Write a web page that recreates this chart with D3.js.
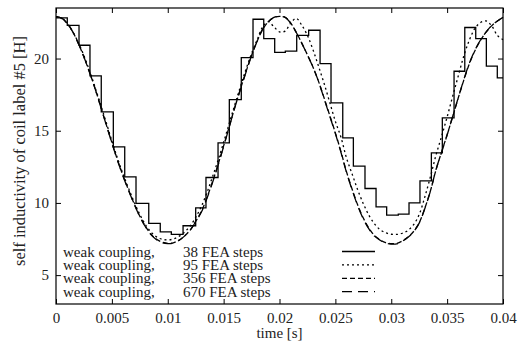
<!DOCTYPE html>
<html>
<head>
<meta charset="utf-8">
<style>
    body { margin: 0; background: #fff; }
    svg text { font-family: "Liberation Serif", "Times New Roman", "DejaVu Serif", Times, serif; }
</style>
</head>
<body>
<svg class="chart" width="522" height="347"></svg>
<script src="https://d3js.org/d3.v7.min.js" charset="utf-8"></script>
<script>
    // time axis of the smooth curves [s]
    var times = [0, 0.0005, 0.001, 0.0015, 0.002, 0.0025, 0.003, 0.0035, 0.004, 0.0045,
        0.005, 0.0055, 0.006, 0.0065, 0.007, 0.0075, 0.008, 0.0085, 0.009, 0.0095,
        0.01, 0.0105, 0.011, 0.0115, 0.012, 0.0125, 0.013, 0.0135, 0.014, 0.0145,
        0.015, 0.0155, 0.016, 0.0165, 0.017, 0.0175, 0.018, 0.0185, 0.019, 0.0195,
        0.02, 0.0205, 0.021, 0.0215, 0.022, 0.0225, 0.023, 0.0235, 0.024, 0.0245,
        0.025, 0.0255, 0.026, 0.0265, 0.027, 0.0275, 0.028, 0.0285, 0.029, 0.0295,
        0.03, 0.0305, 0.031, 0.0315, 0.032, 0.0325, 0.033, 0.0335, 0.034, 0.0345,
        0.035, 0.0355, 0.036, 0.0365, 0.037, 0.0375, 0.038, 0.0385, 0.039, 0.0395, 0.04];

    // 95 FEA steps (dotted)
    var steps95 = [22.90, 22.78, 22.42, 21.85, 21.10, 20.20, 19.15, 18.00, 16.80, 15.55,
        14.30, 13.10, 12.00, 11.00, 10.05, 9.20, 8.50, 7.98, 7.65, 7.48,
        7.44, 7.50, 7.68, 7.98, 8.40, 9.00, 9.75, 10.70, 11.80, 12.95,
        14.20, 15.50, 16.80, 18.05, 19.25, 20.35, 21.30, 22.20, 22.55, 22.20,
        21.85, 21.90, 22.45, 22.78, 22.30, 21.60, 20.60, 19.45, 18.25, 16.95,
        15.65, 14.55, 13.10, 12.00, 10.90, 9.95, 9.15, 8.55, 8.15, 7.93,
        7.83, 7.82, 7.90, 8.10, 8.50, 9.20, 10.40, 11.80, 13.30, 14.60,
        15.95, 17.40, 18.80, 20.20, 21.30, 22.10, 22.50, 22.60, 22.25, 21.60, 21.30];

    // 356 FEA steps (dashed)
    var steps356 = [22.90, 22.80, 22.44, 21.85, 21.05, 20.10, 19.05, 17.92, 16.68, 15.42,
        14.18, 12.98, 11.88, 10.88, 9.93, 9.08, 8.38, 7.83, 7.48, 7.28,
        7.20, 7.24, 7.42, 7.72, 8.12, 8.72, 9.40, 10.35, 11.45, 12.65,
        13.95, 15.28, 16.62, 17.88, 19.08, 20.22, 21.20, 22.02, 22.55, 22.84,
        22.92, 22.86, 22.46, 21.82, 21.06, 20.25, 19.40, 18.40, 17.25, 16.05,
        14.85, 13.55, 12.15, 10.95, 9.85, 8.95, 8.25, 7.74, 7.44, 7.25,
        7.18, 7.20, 7.37, 7.64, 8.02, 8.62, 9.62, 10.82, 12.28, 13.52,
        14.72, 15.98, 17.28, 18.52, 19.66, 20.56, 21.28, 21.84, 22.28, 22.60, 22.84];

    // 670 FEA steps (long dashed)
    var steps670 = [22.90, 22.80, 22.45, 21.85, 21.05, 20.10, 19.05, 17.90, 16.65, 15.40,
        14.15, 12.95, 11.85, 10.85, 9.90, 9.05, 8.35, 7.80, 7.45, 7.25,
        7.18, 7.22, 7.40, 7.70, 8.10, 8.70, 9.35, 10.30, 11.40, 12.60,
        13.90, 15.25, 16.60, 17.85, 19.05, 20.20, 21.20, 22.05, 22.55, 22.85,
        22.92, 22.85, 22.45, 21.80, 21.05, 20.25, 19.40, 18.40, 17.20, 16.00,
        14.80, 13.50, 12.10, 10.90, 9.80, 8.90, 8.20, 7.70, 7.42, 7.22,
        7.15, 7.17, 7.35, 7.62, 8.00, 8.60, 9.60, 10.80, 12.30, 13.50,
        14.70, 16.00, 17.30, 18.55, 19.70, 20.60, 21.30, 21.85, 22.30, 22.60, 22.85];

    // 38 FEA steps: start time of each held value and the value
    var steps38Times = [0, 0.00101, 0.00206, 0.00304, 0.00405, 0.00513, 0.00615, 0.00716, 0.00830, 0.00933,
        0.01032, 0.01137, 0.01250, 0.01342, 0.01450, 0.01551, 0.01658, 0.01763, 0.01859, 0.01957,
        0.02052, 0.02154, 0.02261, 0.02363, 0.02461, 0.02566, 0.02661, 0.02765, 0.02864, 0.02959,
        0.03063, 0.03159, 0.03257, 0.03359, 0.03457, 0.03562, 0.03658, 0.03756, 0.03851, 0.03949];
    var steps38 = [22.81, 22.30, 20.92, 18.80, 16.30, 13.88, 11.81, 9.97, 8.58, 8.00,
        7.82, 8.42, 9.66, 11.76, 14.16, 17.16, 20.07, 22.72, 21.38, 20.42,
        20.51, 21.61, 21.96, 19.65, 16.93, 14.51, 12.55, 11.00, 9.73, 9.16,
        9.22, 10.01, 11.53, 13.47, 15.89, 19.12, 22.15, 21.38, 19.47, 18.66];

    var xTicks = [0, 0.005, 0.01, 0.015, 0.02, 0.025, 0.03, 0.035, 0.04],
        xTickLabels = ['0', '0.005', '0.01', '0.015', '0.02', '0.025', '0.03', '0.035', '0.04'],
        yTicks = [5, 10, 15, 20],
        legendNames = ['38 FEA steps', '95 FEA steps', '356 FEA steps', '670 FEA steps'];

    var serif = '"Liberation Serif", "Times New Roman", "DejaVu Serif", Times, serif',
        fontSize = 15;

    var margin = {left: 56, top: 8, right: 19, bottom: 43},
        width = 522 - margin.left - margin.right,
        height = 347 - margin.top - margin.bottom;

    var x = d3.scaleLinear().domain([0, 0.04]).range([0, width]);
    var y = d3.scaleLinear().domain([3, 23.5]).range([height, 0]);

    var svg = d3.select('.chart')
        .attr('font-family', serif)
        .append('g')
        .attr('transform', 'translate(' + margin.left + ',' + margin.top + ')');

    // axes, ticks pointing inwards on all four sides
    var xAxis = d3.axisBottom(x).tickValues(xTicks)
        .tickFormat(function (d, i) { return xTickLabels[i]; })
        .tickSizeInner(-5).tickSizeOuter(0).tickPadding(8);
    var yAxis = d3.axisLeft(y).tickValues(yTicks)
        .tickSizeInner(-5).tickSizeOuter(0).tickPadding(7);

    svg.append('g').attr('class', 'x axis')
        .attr('transform', 'translate(0,' + height + ')')
        .call(xAxis);
    svg.append('g').attr('class', 'y axis').call(yAxis);
    svg.append('g').attr('class', 'top axis')
        .call(d3.axisTop(x).tickValues(xTicks).tickSizeInner(-5).tickSizeOuter(0).tickFormat(''));
    svg.append('g').attr('class', 'right axis')
        .attr('transform', 'translate(' + width + ',0)')
        .call(d3.axisRight(y).tickValues(yTicks).tickSizeInner(-5).tickSizeOuter(0).tickFormat(''));

    svg.selectAll('.axis .domain').remove();
    svg.selectAll('.axis line').attr('stroke', '#000').attr('stroke-width', 1);
    svg.selectAll('.axis').attr('font-family', serif).attr('font-size', fontSize);
    svg.selectAll('.axis text').attr('fill', '#222');

    svg.append('rect')
        .attr('width', width).attr('height', height)
        .attr('fill', 'none').attr('stroke', '#000').attr('stroke-width', 1.2);

    // curves
    var smooth = d3.line()
        .x(function (d) { return x(d[0]); })
        .y(function (d) { return y(d[1]); })
        .curve(d3.curveCatmullRom);

    var stepLine = d3.line()
        .x(function (d) { return x(d[0]); })
        .y(function (d) { return y(d[1]); })
        .curve(d3.curveStepAfter);

    var stepPts = steps38Times.map(function (t, i) { return [t, steps38[i]]; });
    stepPts.push([0.04, steps38[steps38.length - 1]]);

    var series = [
        {pts: stepPts, line: stepLine, dash: null},
        {pts: times.map(function (t, i) { return [t, steps95[i]]; }), line: smooth, dash: '2,3'},
        {pts: times.map(function (t, i) { return [t, steps356[i]]; }), line: smooth, dash: '5,3'},
        {pts: times.map(function (t, i) { return [t, steps670[i]]; }), line: smooth, dash: '10,6'}
    ];

    svg.append('g').selectAll('path')
        .data(series)
        .enter()
        .append('path')
        .attr('d', function (d) { return d.line(d.pts); })
        .attr('fill', 'none')
        .attr('stroke', '#000')
        .attr('stroke-width', 1.3)
        .attr('stroke-dasharray', function (d) { return d.dash; });

    // legend
    var legend = svg.append('g').attr('transform', 'translate(0,' + (height - 47.5) + ')')
        .attr('font-size', 15).attr('fill', '#222');
    var rows = legend.selectAll('g')
        .data(series)
        .enter()
        .append('g')
        .attr('transform', function (d, i) { return 'translate(0,' + (i * 13.4) + ')'; });

    rows.append('text').attr('x', 7).attr('y', 0).text('weak coupling,');
    rows.append('text').attr('x', 127).attr('y', 0)
        .text(function (d, i) { return legendNames[i]; });
    rows.append('line')
        .attr('x1', 286).attr('x2', 319)
        .attr('y1', -5).attr('y2', -5)
        .attr('stroke', '#000').attr('stroke-width', 1.3)
        .attr('stroke-dasharray', function (d) { return d.dash; });

    // axis titles
    svg.append('text')
        .attr('x', width / 2).attr('y', height + 34)
        .attr('text-anchor', 'middle').attr('font-size', fontSize).attr('fill', '#222')
        .text('time [s]');

    svg.append('text')
        .attr('transform', 'translate(' + (25 - margin.left) + ',' + (151 - margin.top) + ') rotate(-90)')
        .attr('text-anchor', 'middle').attr('font-size', 16.5).attr('fill', '#222')
        .text('self inductivity of coil label #5 [H]');
</script>
</body>
</html>
